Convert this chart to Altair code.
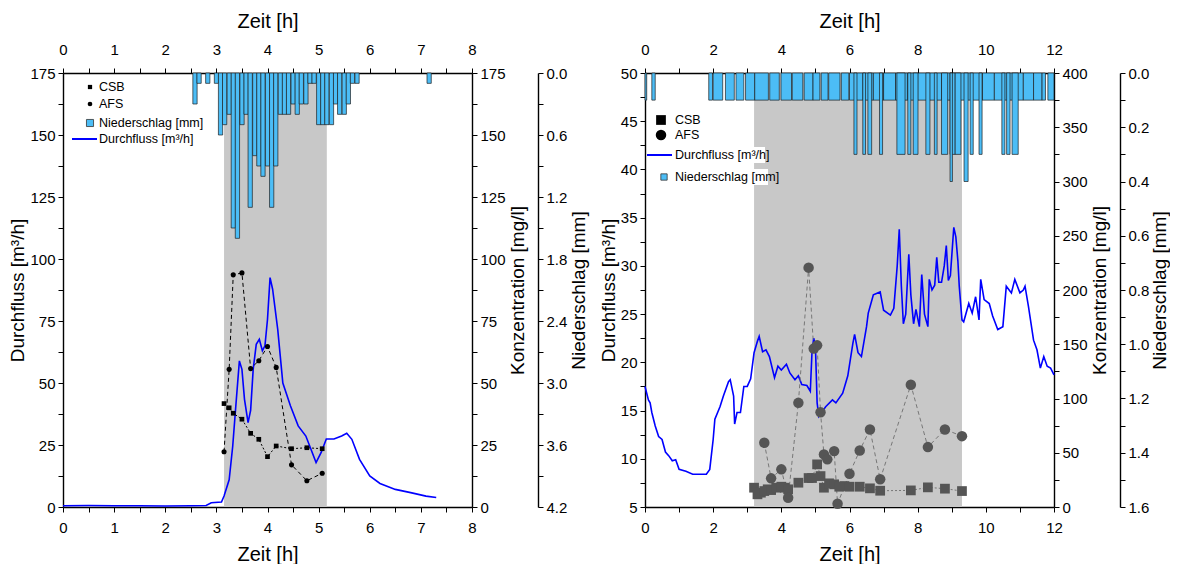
import altair as alt
import pandas as pd

NARROW = "Liberation Sans Narrow, Arial Narrow, Liberation Sans, Arial, sans-serif"
REG = "Liberation Sans, Arial, sans-serif"
RAIN_BLUE = "#4CBDF6"
SHADE = "#C8C8C8"
FLOW_BLUE = "#0000FF"
W, H = 409, 434

# ---------------- left panel (event 1) ----------------
L_flow_t = [0, 0.5, 1.0, 1.5, 2.0, 2.5, 2.8, 2.9, 3.1, 3.15, 3.25, 3.32, 3.38, 3.45, 3.5, 3.55,
            3.62, 3.67, 3.72, 3.78, 3.84, 3.9, 3.95, 4.0, 4.05, 4.1, 4.2, 4.3, 4.45, 4.6, 4.75,
            4.85, 4.95, 5.05, 5.15, 5.3, 5.45, 5.55, 5.65, 5.8, 6.0, 6.2, 6.5, 6.8, 7.1, 7.3]
L_flow_q = [0.5, 0.6, 0.5, 0.5, 0.4, 0.5, 0.6, 1.7, 2.0, 4.4, 11.0, 24.6, 40.7, 58.9, 55.5, 43.4,
            34.0, 39.0, 55.5, 65.6, 67.6, 63.0, 65.0, 75.7, 92.5, 87.8, 71.6, 50.0, 40.7, 32.7, 28.6,
            23.3, 17.9, 22.0, 27.4, 27.4, 28.6, 29.7, 27.3, 19.2, 12.5, 9.5, 7.1, 5.8, 4.4, 3.8]
L_csb_t = [3.15, 3.25, 3.33, 3.5, 3.67, 3.83, 4.0, 4.17, 4.47, 4.77, 5.07]
L_csb = [41.7, 40.0, 37.8, 35.4, 29.7, 27.3, 20.3, 24.6, 23.5, 23.9, 23.5]
L_afs_t = [3.15, 3.25, 3.33, 3.5, 3.67, 3.83, 4.0, 4.17, 4.47, 4.77, 5.07]
L_afs = [22.3, 55.5, 93.6, 94.4, 55.8, 59.0, 64.7, 56.3, 17.0, 10.6, 13.6]
L_rain_t0 = [2.54, 2.62, 2.79, 2.96, 3.04, 3.12, 3.21, 3.29, 3.37, 3.46, 3.54, 3.62, 3.71, 3.79,
             3.87, 3.96, 4.04, 4.12, 4.21, 4.29, 4.37, 4.46, 4.54, 4.62, 4.71, 4.79, 4.87, 4.96,
             5.04, 5.12, 5.21, 5.29, 5.37, 5.46, 5.54, 5.62, 5.71, 7.12]
L_rain_mm = [0.3, 0.1, 0.1, 0.1, 0.6, 0.5, 0.4, 1.5, 1.6, 0.5, 0.4, 1.3, 0.8, 0.9,
             1.0, 0.9, 1.3, 0.9, 0.4, 0.4, 0.4, 0.3, 0.4, 0.3, 0.3, 0.1, 0.1, 0.5,
             0.5, 0.5, 0.5, 0.3, 0.4, 0.4, 0.3, 0.1, 0.1, 0.1]
L_rain_width = 1 / 12
L_shade = (3.15, 5.16)

# ---------------- right panel (event 2) ----------------
R_flow_t = [0, 0.1, 0.15, 0.2, 0.3, 0.4, 0.5, 0.6, 0.7, 0.8,
            0.9, 1.0, 1.2, 1.4, 1.6, 1.8, 1.9, 2.0, 2.05, 2.2,
            2.3, 2.45, 2.5, 2.6, 2.63, 2.7, 2.8, 2.9, 3.0, 3.1,
            3.2, 3.3, 3.35, 3.45, 3.55, 3.65, 3.8, 3.9, 4.0, 4.15,
            4.25, 4.4, 4.5, 4.6, 4.75, 4.85, 4.9, 4.95, 5.0, 5.05,
            5.1, 5.3, 5.5, 5.6, 5.8, 5.95, 6.1, 6.15, 6.25, 6.35,
            6.5, 6.55, 6.7, 6.9, 7.0, 7.2, 7.3, 7.4, 7.46, 7.52,
            7.58, 7.65, 7.74, 7.8, 7.88, 7.95, 8.05, 8.12, 8.2, 8.3,
            8.34, 8.42, 8.5, 8.56, 8.62, 8.7, 8.78, 8.84, 8.9, 8.96,
            9.02, 9.06, 9.12, 9.18, 9.22, 9.3, 9.35, 9.5, 9.6, 9.7,
            9.8, 9.85, 9.95, 10.1, 10.2, 10.35, 10.5, 10.6, 10.75, 10.85,
            11.0, 11.1, 11.15, 11.25, 11.4, 11.5, 11.6, 11.7, 11.8, 11.9,
            12.0]
R_flow_q = [17.5, 16.1, 15.8, 14.8, 13.4, 12.3, 12.0, 10.7, 10.3, 9.8,
            9.9, 8.9, 8.7, 8.4, 8.4, 8.4, 8.9, 12.0, 14.1, 15.4,
            16.5, 18.0, 18.2, 16.5, 13.6, 14.8, 14.8, 17.5, 17.5, 18.3,
            21.0, 22.2, 22.7, 21.1, 21.3, 20.6, 18.4, 19.6, 19.2, 19.8,
            18.9, 18.2, 18.6, 17.7, 17.6, 17.0, 21.1, 22.5, 21.7, 15.8,
            14.4, 15.4, 16.1, 15.8, 16.8, 18.6, 22.0, 22.9, 21.0, 20.6,
            23.7, 25.1, 27.0, 27.3, 25.4, 24.9, 25.6, 30.0, 33.8, 28.0,
            24.0, 25.0, 31.2, 27.0, 24.0, 25.5, 23.7, 29.1, 25.0, 23.7,
            28.6, 27.5, 28.0, 30.9, 28.3, 28.3, 30.0, 32.1, 28.5, 29.0,
            32.0, 34.0, 33.0, 30.5, 27.9, 24.4, 24.2, 26.1, 25.1, 26.8,
            24.4, 28.6, 26.5, 26.1, 24.8, 23.4, 23.7, 27.9, 27.2, 28.6,
            27.2, 27.5, 27.9, 25.8, 22.3, 21.3, 19.4, 20.6, 19.6, 19.4,
            18.7]
R_csb_t = [3.2, 3.3, 3.4, 3.5, 3.6, 3.7, 3.85, 4.0, 4.1, 4.2, 4.5, 4.8, 4.9, 5.05,
           5.15, 5.25, 5.4, 5.55, 5.7, 5.85, 6.0, 6.3, 6.6, 6.9, 7.8, 8.3, 8.8, 9.3]
R_csb = [17.8, 11.7, 13.2, 14.7, 16.3, 15.6, 17.8, 18.7, 17.8, 16.3, 22.4, 26.7, 26.7, 39.3,
         28.5, 17.8, 21.8, 20.9, 18.7, 19.3, 18.7, 18.7, 17.2, 15.0, 15.3, 18.1, 16.9, 14.7]
R_afs_t = [3.5, 3.7, 4.0, 4.2, 4.5, 4.8, 4.95, 5.05, 5.15, 5.25, 5.35, 5.55, 5.65, 6.0,
           6.3, 6.6, 6.9, 7.8, 8.3, 8.8, 9.3]
R_afs = [59.2, 26.4, 34.7, 8.6, 96.0, 220.6, 146.0, 149.0, 87.4, 48.5, 43.9, 51.5, 3.0, 30.7,
         52.1, 71.5, 25.5, 112.6, 55.2, 71.5, 65.3]
R_rain_t0 = [0.0, 0.2, 1.87, 2.0, 2.36, 2.67, 2.95, 3.22, 3.66, 3.99, 4.32, 4.67, 4.93, 5.17,
             5.39, 5.76, 6.0, 6.4, 6.7, 7.0, 7.35, 7.7, 8.0, 8.35, 8.7, 9.0, 9.25, 9.6, 9.9,
             10.25, 10.5, 10.8, 11.1, 11.4, 11.65, 11.82,
             6.13, 6.39, 6.54, 6.88, 7.39, 7.71, 7.87, 8.24, 8.49, 8.7, 8.95, 9.1, 9.54, 9.8,
             10.47, 10.61, 10.77,
             8.95, 9.36]
R_rain_t1 = [0.05, 0.3, 1.98, 2.28, 2.62, 2.9, 3.22, 3.62, 3.94, 4.3, 4.63, 4.93, 5.13, 5.37,
             5.72, 5.98, 6.4, 6.7, 7.0, 7.35, 7.7, 8.0, 8.35, 8.7, 9.0, 9.25, 9.6, 9.9, 10.25,
             10.5, 10.8, 11.1, 11.4, 11.65, 11.75, 12.0,
             6.22, 6.47, 6.65, 6.97, 7.63, 7.8, 8.01, 8.36, 8.57, 8.88, 9.1, 9.27, 9.63, 9.89,
             10.56, 10.71, 10.95,
             9.02, 9.48]
R_rain_mm = [0.1, 0.1, 0.1, 0.1, 0.1, 0.1, 0.1, 0.1, 0.1, 0.1, 0.1, 0.1, 0.1, 0.1,
             0.1, 0.1, 0.1, 0.1, 0.1, 0.1, 0.1, 0.1, 0.1, 0.1, 0.1, 0.1, 0.1, 0.1, 0.1,
             0.1, 0.1, 0.1, 0.1, 0.1, 0.1, 0.1,
             0.3, 0.3, 0.3, 0.3, 0.3, 0.3, 0.3, 0.3, 0.3, 0.3, 0.3, 0.3, 0.3, 0.3,
             0.3, 0.3, 0.3,
             0.4, 0.4]
R_shade = (3.2, 9.3)

# legend texts
L_legend = ["CSB", "AFS", "Niederschlag [mm]", "Durchfluss [m³/h]"]
R_legend = ["CSB", "AFS", "Durchfluss [m³/h]", "Niederschlag [mm]"]


def ticks(a, b, s):
    n = int(round((b - a) / s))
    return [round(a + i * s, 6) for i in range(n + 1)]


def lab_expr(step, fmt="datum.label"):
    return f"abs(datum.value/{step} - round(datum.value/{step})) < 0.001 ? {fmt} : ''"


def x_axis(orient, vals, step):
    top = orient == "top"
    return alt.Axis(orient=orient, title="Zeit [h]", values=vals,
                    labelExpr=lab_expr(step, "format(datum.value, 'd')"),
                    titleFont=NARROW, titleFontSize=20, titleFontWeight="normal",
                    tickSize=5, labelPadding=(11 if top else 8), titlePadding=(11 if top else 9),
                    domainWidth=1.6, labelFlush=False, labelOverlap=False, grid=False)


def y_axis(orient, vals, step, title, fmt="datum.label", offset=0, tpad=3):
    left = orient == "left"
    return alt.Axis(orient=orient, title=title, values=vals, labelExpr=lab_expr(step, fmt),
                    titleFont=REG, titleFontSize=19, titleFontWeight="normal",
                    titleAngle=270, titleBaseline=("bottom" if left else "top"),
                    offset=offset, tickSize=5, labelPadding=3,
                    titlePadding=(2 if left else tpad),
                    domainWidth=1.4, labelFlush=False, labelOverlap=False, grid=False)


def panel(xmax, xstep, xmajor, shade, flow_t, flow_q, flow_dom, flow_step, flow_major,
          csb_t, csb, afs_t, afs, conc_dom, conc_step, conc_major,
          rain_t0, rain_t1, rain_mm, rain_dom, rain_step, rain_major, rain_offset, rain_tpad,
          mark_color, line_color, sq_size, ci_size, legend):
    xs = alt.Scale(domain=[0, xmax], nice=False, zero=False)
    xv = ticks(0, xmax, xstep)
    ax_bottom = x_axis("bottom", xv, xmajor)
    ax_top = x_axis("top", xv, xmajor)
    ax_flow = y_axis("left", ticks(flow_dom[0], flow_dom[1], flow_step), flow_major,
                     "Durchfluss [m³/h]")
    ax_conc = y_axis("right", ticks(conc_dom[0], conc_dom[1], conc_step), conc_major,
                     "Konzentration [mg/l]")
    ax_rain = y_axis("right", ticks(rain_dom[0], rain_dom[1], rain_step), rain_major,
                     "Niederschlag [mm]", fmt="format(datum.value, '.1f')", offset=rain_offset,
                     tpad=rain_tpad)

    shade_df = pd.DataFrame({"t0": [shade[0]], "t1": [shade[1]]})
    flow_df = pd.DataFrame({"t": flow_t, "q": flow_q})
    rain_df = pd.DataFrame({"t0": rain_t0, "t1": rain_t1, "mm": rain_mm,
                            "zero": [0.0] * len(rain_mm)})
    csb_df = pd.DataFrame({"t": csb_t, "c": csb})
    afs_df = pd.DataFrame({"t": afs_t, "c": afs})

    ys_flow = alt.Scale(domain=flow_dom, nice=False, zero=False)
    ys_conc = alt.Scale(domain=conc_dom, nice=False, zero=False)
    ys_rain = alt.Scale(domain=rain_dom, nice=False, zero=False, reverse=True)

    shade_l = alt.Chart(shade_df).mark_rect(color=SHADE).encode(
        x=alt.X("t0:Q", scale=xs, axis=ax_bottom), x2="t1:Q",
        y=alt.value(0), y2=alt.value(H))
    flow_l = alt.Chart(flow_df).mark_line(color=FLOW_BLUE, strokeWidth=1.6).encode(
        x=alt.X("t:Q", scale=xs, axis=ax_bottom),
        y=alt.Y("q:Q", scale=ys_flow, axis=ax_flow))
    layer_flow = alt.layer(shade_l, flow_l)

    rain_l = alt.Chart(rain_df).mark_rect(color=RAIN_BLUE, stroke="#1a1a1a",
                                          strokeWidth=0.8, strokeOpacity=0.85).encode(
        x=alt.X("t0:Q", scale=xs, axis=ax_top), x2="t1:Q",
        y=alt.Y("zero:Q", scale=ys_rain, axis=ax_rain), y2="mm:Q")

    def cx():
        return alt.X("t:Q", scale=xs, axis=None)

    def cy():
        return alt.Y("c:Q", scale=ys_conc, axis=ax_conc)

    csb_line = alt.Chart(csb_df).mark_line(color=line_color, strokeWidth=1,
                                           strokeDash=[2, 2]).encode(x=cx(), y=cy())
    afs_line = alt.Chart(afs_df).mark_line(color=line_color, strokeWidth=1,
                                           strokeDash=[4, 3]).encode(x=cx(), y=cy())
    csb_pts = alt.Chart(csb_df).mark_point(shape="square", filled=True, opacity=1,
                                           color=mark_color, size=sq_size).encode(x=cx(), y=cy())
    afs_pts = alt.Chart(afs_df).mark_point(shape="circle", filled=True, opacity=1,
                                           color=mark_color, size=ci_size).encode(x=cx(), y=cy())
    layer_conc = alt.layer(csb_line, afs_line, csb_pts, afs_pts)

    # legend (drawn inside the plot area)
    leg = pd.DataFrame(legend)
    ly = alt.Y("ly:Q", scale=None)
    bg = alt.Chart(leg).transform_filter("datum.bgw > 0").mark_rect(color="white").encode(
        x=alt.X("tx0:Q", scale=None), x2="bgx1:Q",
        y=alt.Y("bgy0:Q", scale=None), y2="bgy1:Q")
    txt = alt.Chart(leg).mark_text(align="left", baseline="middle", font=NARROW,
                                   fontSize=12.5, color="black").encode(
        x=alt.X("tx:Q", scale=None), y=ly, text="label:N")
    pts = alt.Chart(leg).transform_filter("datum.kind == 'pt'").mark_point(
        filled=True, opacity=1).encode(
        x=alt.X("sx:Q", scale=None), y=ly,
        shape=alt.Shape("shape:N", scale=None), size=alt.Size("size:Q", scale=None),
        color=alt.Color("fill:N", scale=None))
    rsym = alt.Chart(leg).transform_filter("datum.kind == 'rain'").mark_point(
        shape="square", filled=True, opacity=1, color=RAIN_BLUE, stroke="#333",
        strokeWidth=0.8).encode(
        x=alt.X("sx:Q", scale=None), y=ly, size=alt.Size("size:Q", scale=None))
    lsym = alt.Chart(leg).transform_filter("datum.kind == 'line'").mark_rule(
        color=FLOW_BLUE, strokeWidth=2).encode(
        x=alt.X("lx0:Q", scale=None), x2="lx1:Q", y=ly)

    return alt.layer(layer_flow, rain_l, layer_conc, bg, txt, pts, rsym, lsym).resolve_scale(
        x="independent", y="independent").properties(width=W, height=H)


def legend_table(labels, kinds, shapes, fills, sizes, sx, ys, tx, lx0, lx1, bgw):
    return {
        "label": labels, "kind": kinds, "shape": shapes, "fill": fills, "size": sizes,
        "sx": sx, "ly": ys, "tx": [tx] * len(labels),
        "tx0": [tx - 2] * len(labels), "bgx1": [tx + w for w in bgw],
        "bgy0": [y - 8 for y in ys], "bgy1": [y + 8 for y in ys], "bgw": bgw,
        "lx0": [lx0] * len(labels), "lx1": [lx1] * len(labels),
    }


left_leg = legend_table(L_legend, ["pt", "pt", "rain", "line"],
                        ["square", "circle", "square", "square"],
                        ["black", "black", RAIN_BLUE, FLOW_BLUE],
                        [18, 22, 50, 0], [27, 27, 27, 27], [14, 31, 50, 66],
                        36, 9, 34, [0, 0, 0, 0])
right_leg = legend_table(R_legend, ["pt", "pt", "line", "rain"],
                         ["square", "circle", "square", "square"],
                         ["black", "black", FLOW_BLUE, RAIN_BLUE],
                         [95, 110, 0, 40], [16, 16, 16, 19], [47, 62, 82, 104],
                         30, 2, 27, [0, 0, 90, 93])

left = panel(8, 0.5, 1, L_shade, L_flow_t, L_flow_q, [0, 175], 12.5, 25,
             L_csb_t, L_csb, L_afs_t, L_afs, [0, 175], 12.5, 25,
             L_rain_t0, [t + L_rain_width for t in L_rain_t0], L_rain_mm,
             [0, 4.2], 0.3, 0.6, 66, 3,
             "black", "black", 22, 26, left_leg)

right = panel(12, 1, 2, R_shade, R_flow_t, R_flow_q, [5, 50], 2.5, 5,
              R_csb_t, R_csb, R_afs_t, R_afs, [0, 400], 25, 50,
              R_rain_t0, R_rain_t1, R_rain_mm,
              [0, 1.6], 0.1, 0.2, 66, 2,
              "#555555", "#777777", 95, 110, right_leg)

chart = alt.hconcat(left, right, spacing=10).properties(
    padding={"left": 0, "top": 3, "right": 0, "bottom": 0}
).configure_view(stroke=None).configure_axis(
    labelFont=NARROW, labelFontSize=15, labelColor="black", tickColor="black",
    domainColor="black", titleColor="black"
)

chart.save("out.html", embed_options={"renderer": "svg", "actions": False})
